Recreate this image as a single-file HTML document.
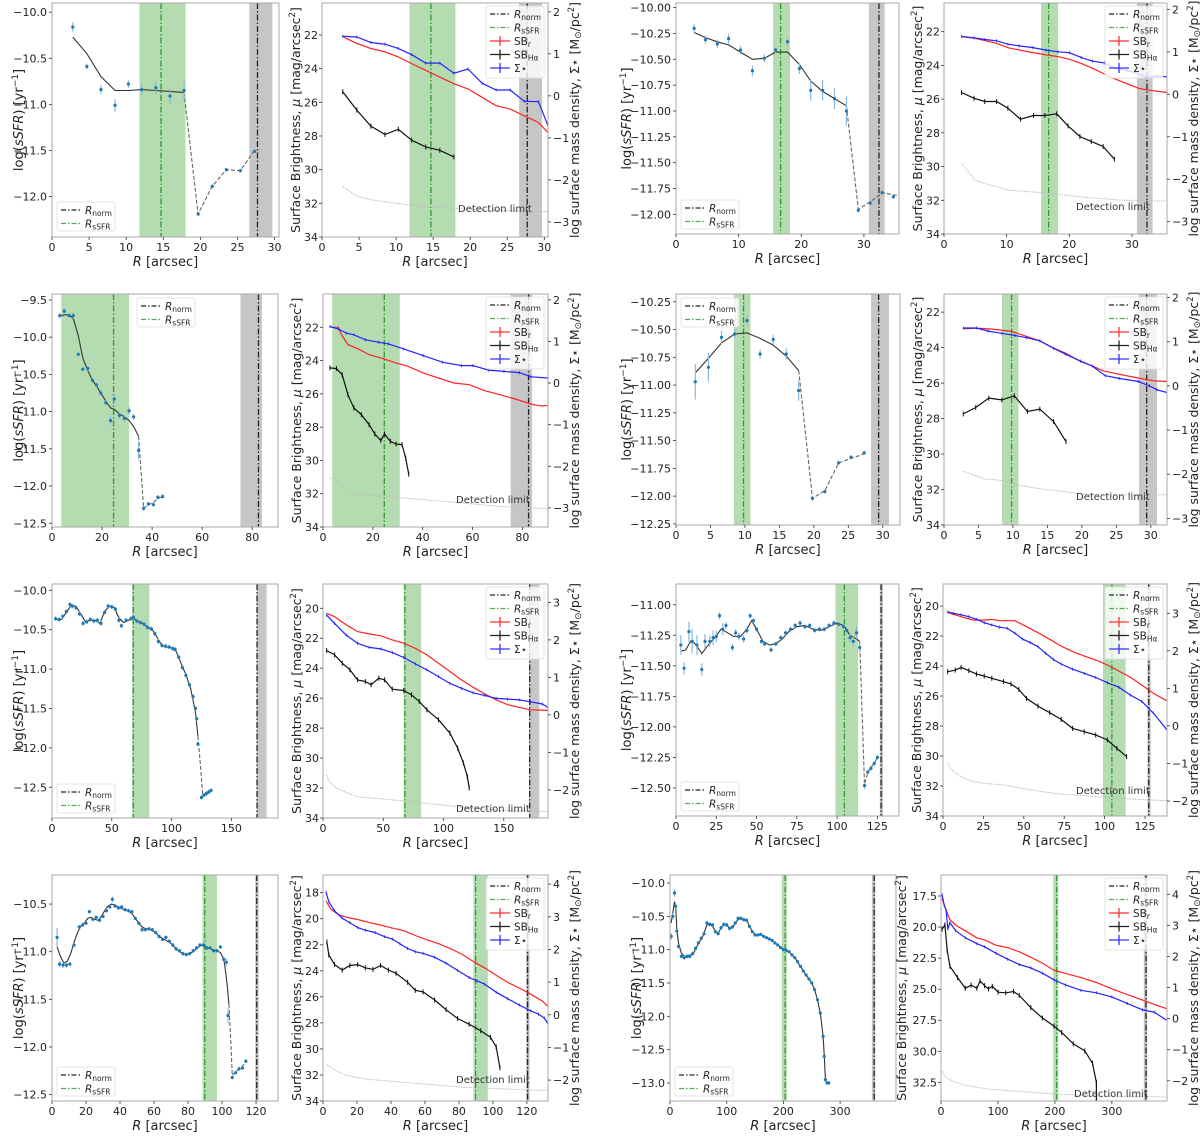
<!DOCTYPE html>
<html><head><meta charset="utf-8">
<style>
html,body{margin:0;padding:0;background:#fff;}
svg{display:block;font-family:"DejaVu Sans","Liberation Sans",sans-serif;}
</style></head>
<body>
<svg id="fig" xmlns="http://www.w3.org/2000/svg" width="1200" height="1138" viewBox="0 0 1200 1138"></svg>
<script>
// ===== Galaxy 1 (row1 left) =====
const g1_pts=[[2.8,-10.16,.05],[4.7,-10.59,.03],[6.6,-10.84,.05],[8.5,-11.01,.07],[10.3,-10.78,.04],[12.1,-10.84,.07],[14.0,-10.82,.07],[15.9,-10.91,.08],[17.8,-10.85,.1],[19.7,-12.19,.02],[21.6,-11.89,.02],[23.5,-11.71,.02],[25.4,-11.72,.02],[27.3,-11.51,.02]];
const g1_ls=[[2.8,-10.27],[4.7,-10.45],[6.6,-10.7],[8.5,-10.85],[10.3,-10.85],[12.1,-10.84],[14,-10.85],[15.9,-10.86],[17.8,-10.87]];
const g1_ld=[[17.8,-10.87],[19.7,-12.19],[21.6,-11.89],[23.5,-11.71],[25.4,-11.72],[27.3,-11.5]];
const g1_sbr=[[2.8,22.1],[4.7,22.5],[6.6,22.8],[8.5,23.0],[10.3,23.3],[12.1,23.7],[14,24.1],[15.9,24.5],[17.8,24.9],[19.7,25.2],[21.6,25.7],[23.5,26.2],[25.4,26.4],[27.3,26.8],[29.2,27.2],[30.5,27.8]];
const g1_sig=[[2.8,1.42],[4.7,1.40],[6.6,1.27],[8.5,1.23],[10.3,1.13],[12.1,0.98],[14,0.78],[15.9,0.78],[17.8,0.54],[19.7,0.64],[21.6,0.30],[23.5,0.14],[25.4,0.14],[27.3,-0.13],[29.2,-0.14],[30.5,-0.71]];
const g1_sbha=[[2.8,25.37],[4.7,26.46],[6.6,27.42],[8.5,27.91],[10.3,27.6],[12.1,28.25],[14,28.65],[15.9,28.85],[17.8,29.24]];
const g1_det=[[2.8,30.99],[4.7,31.58],[7,31.82],[10,32.0],[14,32.2],[18,32.3],[22,32.4],[30.5,32.5]];
// ===== Galaxy 2 (row1 right) =====
const g2_pts=[[2.9,-10.2,.04],[4.7,-10.31,.04],[6.6,-10.35,.04],[8.4,-10.3,.05],[10.3,-10.41,.04],[12.2,-10.61,.05],[14.1,-10.49,.04],[15.9,-10.41,.03],[17.8,-10.33,.04],[19.7,-10.59,.05],[21.5,-10.8,.1],[23.4,-10.8,.1],[25.3,-10.88,.1],[27.2,-11.0,.14],[29.1,-11.96,.02],[31,-11.89,.02],[32.9,-11.79,.02],[34.7,-11.83,.02]];
const g2_ls=[[2.9,-10.24],[4.7,-10.29],[6.6,-10.33],[8.4,-10.36],[10.3,-10.43],[12.2,-10.5],[14.1,-10.49],[15.9,-10.43],[17.8,-10.43],[19.7,-10.55],[21.5,-10.71],[23.4,-10.81],[25.3,-10.88],[27.2,-10.95]];
const g2_ld=[[27.2,-10.95],[29.1,-11.95],[31,-11.88],[32.9,-11.79],[35.6,-11.82]];
const g2_sbr=[[2.8,22.3],[4.8,22.39],[6.5,22.53],[8.4,22.69],[10.2,22.95],[12.0,23.09],[14.2,23.24],[16.3,23.38],[18.2,23.48],[20.0,23.64],[21.9,23.88],[23.7,24.17],[25.6,24.51],[27.4,24.82],[29.3,25.1],[31.1,25.36],[32.3,25.45],[35.6,25.61]];
const g2_sig=[[2.8,1.36],[4.8,1.33],[6.5,1.29],[8.4,1.26],[10.2,1.18],[12.0,1.14],[14.2,1.1],[16.3,1.04],[18.2,1.0],[20.0,0.98],[21.9,0.87],[23.7,0.78],[25.6,0.74],[27.4,0.61],[29.3,0.56],[31.1,0.48],[32.3,0.4],[34.1,0.43],[35.6,0.41]];
const g2_sbha=[[2.8,25.61],[4.8,25.95],[6.5,26.14],[8.4,26.14],[10.2,26.54],[12.2,27.19],[14.3,26.97],[16.1,26.97],[18.0,26.87],[19.8,27.59],[21.7,28.22],[23.5,28.51],[25.4,28.81],[27.2,29.56]];
const g2_det=[[2.8,29.8],[4.9,30.8],[6.5,31.0],[10.2,31.4],[15.7,31.55],[21.9,31.8],[28.0,31.99],[35.6,32.05]];
// ===== Galaxy 3 (row2 left) =====
const g3_pts=[[3.1,-9.71,.04],[4.9,-9.65,.04],[6.9,-9.71,.03],[8.5,-9.71,.04],[10.5,-10.23,.03],[12.3,-10.43,.03],[14.3,-10.42,.03],[16.2,-10.58,.03],[17.7,-10.64,.03],[19.5,-10.75,.04],[21.5,-10.88,.04],[23.4,-11.12,.06],[24.9,-10.83,.05],[26.9,-11.05,.05],[28.9,-11.09,.05],[30.8,-10.99,.05],[32.6,-11.07,.04],[34.6,-11.52,.12],[36.6,-12.3,.03],[38.5,-12.24,.03],[40.5,-12.25,.03],[42.3,-12.15,.03],[44.2,-12.14,.03]];
const g3_ls=[[3.1,-9.72],[4.9,-9.7],[6.9,-9.7],[8.5,-9.75],[10.5,-9.98],[12.3,-10.28],[14.3,-10.45],[16.2,-10.58],[17.7,-10.65],[19.5,-10.75],[21.5,-10.86],[23.4,-10.95],[24.9,-10.97],[26.9,-11.03],[28.9,-11.07],[30.8,-11.12],[32.6,-11.2],[34.6,-11.33]];
const g3_ld=[[34.6,-11.33],[36.6,-12.3],[38.5,-12.25],[40.5,-12.22],[42.3,-12.17],[44.2,-12.14]];
const g3_sbr=[[3.4,22],[6.2,22],[7.4,22.44],[10.0,23.04],[13.9,23.28],[18.5,23.64],[23.2,23.84],[29.3,24.14],[34.0,24.34],[40.2,24.74],[46.3,25.05],[52.5,25.35],[58.7,25.45],[64.9,25.81],[71.0,26.05],[77.2,26.31],[83.4,26.61],[86.5,26.71],[90.3,26.71]];
const g3_sig=[[2.8,1.36],[6.2,1.30],[9.3,1.2],[12.4,1.16],[17,1.04],[22.4,0.98],[26.3,0.94],[32.4,0.82],[40.2,0.66],[47.9,0.5],[55.6,0.42],[60.2,0.42],[66.4,0.31],[72.6,0.28],[78.8,0.25],[83.4,0.15],[90.3,0.12]];
const g3_sbha=[[2.8,24.44],[5.4,24.48],[7.7,24.85],[10,26.05],[12.4,26.85],[15.4,27.25],[18.5,27.85],[20.8,28.41],[23.2,28.81],[24.7,28.41],[27,28.85],[29.3,29.01],[31.7,29.05],[33.2,29.86],[34.4,30.82]];
const g3_det=[[2.8,31.06],[5.9,31.16],[9.3,31.86],[12.4,32.02],[24.7,32.16],[40.2,32.36],[55.6,32.56],[71,32.76],[90.3,32.9]];
// ===== Galaxy 4 (row2 right) =====
const g4_pts=[[2.8,-10.97,.16],[4.7,-10.84,.13],[6.6,-10.57,.06],[8.5,-10.54,.04],[10.3,-10.42,.04],[12.2,-10.72,.04],[14.1,-10.59,.04],[16,-10.72,.05],[17.8,-11.05,.09],[19.8,-12.02,.02],[21.6,-11.96,.02],[23.6,-11.7,.02],[25.4,-11.65,.02],[27.3,-11.61,.02]];
const g4_ls=[[2.8,-10.89],[4.7,-10.76],[6.6,-10.62],[8.5,-10.54],[10.3,-10.53],[12.2,-10.58],[14.1,-10.64],[16,-10.74],[17.8,-10.87]];
const g4_ld=[[17.8,-10.87],[19.8,-12.02],[21.6,-11.95],[23.6,-11.7],[25.4,-11.66],[27.3,-11.62]];
const g4_sbr=[[2.8,22.94],[4.7,22.9],[7,22.96],[9.8,23.09],[12,23.37],[13.9,23.62],[15.9,24.03],[17.6,24.31],[19.8,24.78],[21.5,25.03],[23.1,25.31],[25.4,25.5],[28.2,25.72],[30.4,25.87],[32.35,25.91]];
const g4_sig=[[2.8,1.31],[4.7,1.31],[6.4,1.24],[8.4,1.19],[10.3,1.14],[12,1.09],[13.9,1.02],[15.9,0.85],[17.6,0.72],[19.8,0.56],[21.5,0.45],[23.4,0.23],[25.4,0.17],[28.2,0.1],[29.8,0.0],[30.9,-0.09],[32.35,-0.15]];
const g4_sbha=[[2.8,27.74],[4.6,27.38],[6.5,26.85],[8.4,26.95],[10.2,26.72],[12.1,27.6],[13.9,27.47],[15.9,28.17],[17.7,29.3]];
const g4_det=[[2.8,30.96],[5.9,31.4],[8.6,31.5],[11.4,31.8],[14.2,31.97],[17,32.1],[20.4,32.26],[25.4,32.3],[32.35,32.3]];
// ===== Galaxy 5 (row3 left) =====
const g5_ls=[[3,-10.37],[8,-10.37],[12,-10.28],[16,-10.19],[20,-10.2],[24,-10.3],[28,-10.4],[32,-10.38],[36,-10.38],[40,-10.42],[44,-10.27],[48,-10.2],[52,-10.22],[56,-10.35],[60,-10.41],[64,-10.38],[68,-10.35],[72,-10.4],[76,-10.42],[80,-10.47],[84,-10.5],[88,-10.6],[92,-10.7],[96,-10.72],[100,-10.73],[104,-10.78],[108,-10.93],[112,-11.07],[116,-11.25],[120,-11.55],[122,-11.85]];
const g5_ld=[[122,-11.85],[124,-12.2],[126,-12.6],[128,-12.6],[130,-12.57],[133,-12.54]];
const g5_pts=[[3,-10.36,.03],[6,-10.37,.03],[9,-10.33,.03],[12,-10.27,.03],[15,-10.18,.03],[17,-10.2,.03],[20,-10.22,.03],[23,-10.3,.03],[26,-10.42,.03],[29,-10.4,.03],[32,-10.37,.03],[35,-10.39,.03],[38,-10.38,.03],[41,-10.42,.03],[44,-10.28,.03],[47,-10.2,.03],[50,-10.21,.03],[53,-10.24,.03],[56,-10.38,.03],[58,-10.45,.03],[62,-10.38,.03],[66,-10.36,.03],[68,-10.34,.03],[71,-10.39,.03],[74,-10.41,.03],[77,-10.43,.03],[80,-10.47,.03],[83,-10.49,.03],[86,-10.55,.03],[89,-10.65,.03],[92,-10.7,.03],[95,-10.71,.03],[98,-10.72,.03],[101,-10.74,.03],[103,-10.75,.03],[106,-10.85,.03],[109,-10.98,.03],[112,-11.08,.03],[115,-11.2,.03],[118,-11.35,.03],[120,-11.5,.03],[121,-11.63,.03],[122,-11.95,.03],[125,-12.63,.03],[127,-12.6,.03],[129,-12.58,.03],[131,-12.56,.03],[133,-12.54,.03]];
const g5_sbr=[[3,20.33],[9.6,20.56],[19.2,21.1],[28.7,21.56],[38.3,21.71],[47.9,21.84],[57.5,22.11],[67,22.33],[76.6,22.67],[86.2,23.11],[95.8,23.67],[105.3,24.22],[114.9,24.78],[124.5,25.27],[134,25.71],[143.6,26.11],[153.2,26.44],[162.8,26.62],[172.3,26.78],[186.7,26.82]];
const g5_sig=[[3,2.66],[9.6,2.44],[19.2,2.13],[28.7,1.91],[38.3,1.8],[47.9,1.76],[57.5,1.66],[67,1.53],[76.6,1.36],[86.2,1.2],[95.8,1.02],[105.3,0.84],[114.9,0.71],[124.5,0.59],[134,0.52],[143.6,0.44],[153.2,0.42],[162.8,0.4],[172.3,0.35],[181.9,0.29],[186.7,0.2]];
const g5_sbha=[[3,22.82],[9.6,23.11],[16,23.67],[22.3,24.11],[28.7,24.78],[35.1,24.89],[39.9,25.11],[46.3,24.67],[51.1,24.78],[57.5,25.4],[67,25.49],[73.4,25.78],[79.8,26.22],[86.2,26.78],[95.8,27.44],[105.3,28.33],[111.7,29.33],[116.5,30.33],[119.7,31.22],[121.3,32.0]];
const g5_det=[[2.6,31.11],[6.4,31.67],[11.2,32.0],[19.2,32.29],[28.7,32.6],[51,32.73],[83,33.0],[114.9,33.27],[146.8,33.49],[186.7,33.56]];
// ===== Galaxy 6 (row3 right) =====
const g6_ls=[[3,-11.38],[6,-11.37],[9,-11.3],[12,-11.32],[16,-11.4],[20,-11.33],[24,-11.27],[28,-11.2],[32,-11.23],[36,-11.26],[40,-11.26],[44,-11.2],[47,-11.13],[50,-11.2],[54,-11.3],[58,-11.33],[62,-11.32],[66,-11.28],[70,-11.22],[75,-11.18],[80,-11.17],[85,-11.2],[90,-11.21],[95,-11.18],[100,-11.15],[104,-11.17],[108,-11.25],[112,-11.28],[114,-11.3]];
const g6_ld=[[114,-11.3],[117,-12.47],[119,-12.38],[121,-12.33],[123,-12.3],[125,-12.25]];
const g6_pts=[[3,-11.33,.08],[5,-11.52,.05],[8,-11.22,.08],[10,-11.3,.1],[13,-11.33,.08],[16,-11.53,.05],[18,-11.3,.06],[21,-11.3,.05],[23,-11.27,.06],[25,-11.26,.05],[27,-11.09,.03],[29,-11.2,.05],[31,-11.17,.03],[35,-11.35,.03],[37,-11.23,.03],[39,-11.26,.03],[42,-11.28,.03],[44,-11.21,.03],[46,-11.09,.02],[48,-11.13,.02],[50,-11.2,.02],[53,-11.3,.02],[55,-11.32,.02],[59,-11.37,.02],[62,-11.32,.02],[65,-11.27,.02],[68,-11.23,.02],[71,-11.2,.02],[74,-11.17,.02],[77,-11.15,.02],[80,-11.18,.02],[83,-11.17,.02],[86,-11.21,.02],[89,-11.2,.02],[92,-11.2,.02],[95,-11.17,.02],[98,-11.15,.02],[101,-11.16,.02],[104,-11.18,.02],[106,-11.21,.03],[108,-11.27,.04],[110,-11.3,.04],[112,-11.23,.05],[114,-11.35,.04],[117,-12.48,.03],[119,-12.37,.02],[121,-12.34,.02],[123,-12.3,.02],[125,-12.25,.02]];
const g6_sbr=[[2.9,20.44],[11.2,20.71],[18.3,20.93],[25.5,20.93],[30.2,20.89],[35,20.98],[39.8,20.98],[44.5,20.98],[51.7,21.38],[58.8,21.78],[66,22.22],[73.1,22.67],[80.2,23.04],[87.4,23.33],[94.5,23.6],[101.7,23.93],[108.8,24.33],[116,24.76],[123.1,25.27],[130.2,25.82],[138.6,26.33]];
const g6_sig=[[2.9,3.04],[6.4,3.0],[11.2,2.96],[16,2.91],[20.7,2.84],[25.5,2.75],[30.2,2.69],[35,2.63],[39.8,2.6],[44.5,2.47],[49.3,2.31],[54,2.22],[58.8,2.11],[63.6,1.93],[68.3,1.77],[73.1,1.65],[80.2,1.51],[87.4,1.4],[94.5,1.29],[101.7,1.15],[108.8,1.03],[116,0.82],[123.1,0.65],[130.2,0.34],[138.6,-0.11]];
const g6_sbha=[[2.9,24.38],[7.6,24.27],[11.2,24.09],[16,24.31],[20.7,24.53],[25.5,24.67],[30.2,24.82],[37.4,25.04],[42.1,25.2],[46.9,25.56],[51.7,26.16],[58.8,26.67],[66,27.11],[73.1,27.56],[80.2,28.16],[87.4,28.38],[94.5,28.6],[101.7,28.93],[107.6,29.49],[113.6,30.04]];
const g6_det=[[2.9,30.49],[6.4,31.04],[11.2,31.38],[18.3,31.71],[25.5,31.82],[37.4,31.93],[49.3,32.16],[61.2,32.38],[73.1,32.53],[96.9,32.71],[120.7,32.89],[138.6,32.98]];
// ===== Galaxy 7 (row4 left) =====
const g7_ls=[[3,-10.95],[5,-11.05],[7,-11.12],[9,-11.1],[11,-11.02],[13,-10.9],[15,-10.8],[17,-10.73],[19,-10.7],[21,-10.65],[23,-10.64],[25,-10.66],[27,-10.67],[29,-10.63],[31,-10.57],[33,-10.52],[35,-10.5],[37,-10.51],[39,-10.53],[41,-10.55],[43,-10.56],[45,-10.57],[47,-10.6],[49,-10.65],[51,-10.7],[53,-10.74],[55,-10.76],[57,-10.76],[59,-10.78],[61,-10.8],[63,-10.84],[65,-10.86],[67,-10.88],[69,-10.9],[71,-10.93],[73,-10.97],[75,-11.0],[77,-11.02],[79,-11.03],[81,-11.02],[83,-11.0],[85,-10.97],[87,-10.94],[89,-10.93],[91,-10.95],[93,-10.97],[95,-10.98],[97,-10.99],[99,-11.01],[101,-11.08],[102,-11.2],[103,-11.35],[104,-11.55]];
const g7_ld=[[104,-11.55],[105,-11.9],[106,-12.3],[108,-12.26],[110,-12.23],[112,-12.2],[114,-12.15]];
const g7_pts=[[3,-10.85,.1],[4.5,-11.13,.03],[6.5,-11.14,.03],[8.5,-11.14,.03],[10.5,-11.13,.02],[13,-10.93,.02],[16,-10.74,.02],[18,-10.72,.02],[20,-10.7,.02],[22,-10.58,.02],[24,-10.66,.02],[26,-10.64,.02],[28,-10.67,.02],[30,-10.63,.02],[32,-10.57,.02],[34,-10.53,.02],[35.5,-10.45,.03],[37,-10.52,.02],[39,-10.54,.02],[41,-10.53,.02],[43,-10.56,.02],[45,-10.57,.02],[47,-10.58,.02],[49,-10.65,.02],[51,-10.7,.02],[53,-10.77,.02],[55,-10.77,.02],[57,-10.76,.02],[59,-10.77,.02],[61,-10.8,.02],[63,-10.84,.02],[65,-10.87,.02],[67,-10.85,.02],[69,-10.89,.02],[71,-10.93,.02],[73,-10.97,.02],[75,-10.99,.02],[77,-11.02,.02],[79,-11.03,.02],[81,-11.02,.02],[83,-10.99,.02],[85,-10.96,.02],[87,-10.93,.02],[89,-10.93,.03],[91,-10.96,.02],[93,-10.96,.02],[95,-10.99,.02],[97,-10.99,.02],[99,-10.95,.02],[101,-11.08,.03],[102.5,-11.11,.04],[103.5,-11.67,.08],[106,-12.32,.02],[108,-12.27,.02],[110,-12.23,.02],[112,-12.22,.02],[114,-12.15,.02]];
const g7_sbr=[[1.8,18.64],[4.5,19.24],[9,19.68],[13.6,19.88],[20.4,20.06],[27.2,20.3],[33.9,20.48],[40.8,20.72],[47.5,20.92],[54.3,21.29],[61.1,21.62],[67.9,21.91],[74.7,22.28],[81.5,22.71],[88.3,23.28],[95.1,23.77],[101.9,24.34],[108.7,24.89],[115.5,25.33],[122.3,25.8],[129,26.32],[132.4,26.74]];
const g7_sig=[[1.8,3.75],[3.4,3.46],[6.8,3.18],[11.3,2.96],[15.8,2.82],[20.4,2.67],[24.9,2.59],[30.6,2.52],[36.2,2.39],[40.8,2.32],[45.3,2.17],[49.8,2.03],[54.3,1.93],[58.9,1.88],[65.7,1.76],[72.4,1.58],[79.2,1.36],[86,1.14],[90.6,1.04],[95.1,0.94],[101.9,0.69],[108.7,0.49],[115.5,0.3],[122.3,0.12],[126.8,0.02],[130.2,-0.1],[132.4,-0.28]];
const g7_sbha=[[2.3,21.79],[3.4,22.78],[6.8,23.52],[11.3,23.94],[15.8,23.59],[20.4,23.52],[24.9,23.77],[29.4,23.89],[33.9,23.59],[38.5,23.94],[43,24.19],[49.8,24.88],[54.3,25.5],[58.9,25.62],[65.7,26.24],[72.4,26.99],[79.2,27.66],[86,28.1],[92.8,28.6],[98.5,29.1],[101.9,29.84],[104.1,31.45]];
const g7_det=[[2.3,31.2],[6.8,31.62],[13.6,32.02],[24.9,32.32],[36.2,32.44],[58.9,32.69],[81.5,32.94],[104.1,33.06],[132.4,33.19]];
// ===== Galaxy 8 (row4 right) =====
const g8_ls=[[2,-10.6],[5,-10.45],[8,-10.28],[10,-10.35],[12,-10.7],[15,-10.9],[20,-11.05],[25,-11.1],[30,-11.1],[35,-11.08],[40,-11.07],[45,-11.0],[50,-10.9],[55,-10.85],[60,-10.75],[65,-10.63],[70,-10.62],[75,-10.65],[80,-10.72],[85,-10.75],[90,-10.68],[95,-10.62],[100,-10.63],[105,-10.68],[110,-10.67],[115,-10.6],[120,-10.55],[125,-10.53],[130,-10.55],[135,-10.55],[140,-10.65],[145,-10.72],[150,-10.78],[155,-10.78],[160,-10.77],[165,-10.8],[170,-10.82],[180,-10.86],[190,-10.93],[200,-11.0],[210,-11.03],[220,-11.12],[230,-11.25],[240,-11.38],[250,-11.5],[255,-11.6],[260,-11.75],[265,-11.95],[270,-12.3],[272,-12.6],[274,-12.95],[277,-13.0],[280,-13.0]];
const g8_ld=[];
const g8_pts=[[2,-10.8,.05],[5,-10.5,.05],[8,-10.15,.06],[10,-10.35,.04],[12,-10.72,.03],[15,-10.95,.03],[20,-11.1,.03],[25,-11.12,.03],[30,-11.1,.03],[35,-11.1,.03],[40,-11.06,.03],[45,-10.98,.03],[50,-10.9,.03],[55,-10.83,.03],[60,-10.76,.03],[65,-10.6,.03],[70,-10.62,.03],[75,-10.63,.03],[80,-10.73,.03],[85,-10.76,.03],[90,-10.67,.03],[95,-10.62,.03],[100,-10.63,.03],[105,-10.68,.03],[110,-10.66,.03],[115,-10.6,.03],[120,-10.53,.03],[125,-10.53,.03],[130,-10.55,.03],[135,-10.56,.03],[140,-10.65,.02],[145,-10.73,.02],[150,-10.78,.02],[155,-10.78,.02],[160,-10.77,.02],[165,-10.8,.02],[170,-10.82,.02],[175,-10.84,.02],[180,-10.86,.02],[185,-10.9,.02],[190,-10.93,.02],[195,-10.97,.02],[200,-11.0,.02],[205,-11.01,.02],[210,-11.03,.02],[215,-11.08,.02],[220,-11.12,.02],[225,-11.18,.02],[230,-11.25,.02],[235,-11.32,.02],[240,-11.38,.02],[245,-11.44,.02],[250,-11.5,.02],[255,-11.6,.02],[260,-11.75,.02],[265,-11.95,.02],[270,-12.3,.02],[272,-12.6,.02],[274,-12.95,.02],[277,-13.0,.02],[280,-13.0,.02]];
const g8_sbr=[[2,17.71],[8.8,18.62],[15.6,19.4],[25.7,19.84],[42.7,20.3],[63,20.87],[76.5,21.03],[96.8,21.47],[117.1,21.65],[137.4,21.99],[157.7,22.43],[178,22.9],[198.4,23.47],[218.7,23.73],[245.8,24.07],[272.8,24.46],[300,24.97],[327,25.44],[354.1,25.88],[374.4,26.22],[396.8,26.58]];
const g8_sig=[[2,3.99],[5.4,3.66],[8.8,3.5],[12.2,2.88],[15.6,3.09],[25.7,2.83],[42.7,2.6],[63,2.41],[76.5,2.31],[96.8,2.1],[117.1,1.91],[137.4,1.74],[157.7,1.63],[178,1.46],[198.4,1.25],[218.7,1.08],[245.8,0.91],[272.8,0.83],[300,0.7],[327,0.49],[354.1,0.28],[374.4,0.21],[396.8,-0.06]];
const g8_sbha=[[2,20.17],[6.8,19.83],[10.8,21.86],[15.6,23.16],[29.1,24.07],[42.7,24.93],[52.8,24.67],[63,24.93],[68.4,24.33],[76.5,24.72],[83.3,24.98],[90.1,24.77],[100.2,25.24],[113.7,25.29],[127.3,25.19],[137.4,25.5],[157.7,26.49],[178,27.32],[198.4,27.97],[211.9,28.49],[232.2,29.4],[252.5,29.97],[266,30.96],[272.8,32.5],[272.8,34]];
const g8_det=[[2,31.6],[8.8,32.12],[22.3,32.43],[42.7,32.74],[76.5,33.0],[144.2,33.26],[211.9,33.47],[279.6,33.6],[396.8,33.68]];

// Markers (green band lo, hi, R_sSFR, gray band lo, hi, R_norm) per galaxy
const g1_marks=[11.8,18,14.7,26.6,29.7,27.7];
const g2_marks=[15.5,18.2,16.7,30.8,33.3,32.4];
const g3_marks=[3.7,30.8,24.6,75.3,83.9,82.5];
const g4_marks=[8.4,10.8,9.8,28.3,30.9,29.4];
const g5_marks=[67,81.5,68,171,179.5,171.5];
const g6_marks=[99,113,104.5,126.5,128.5,127.3];
const g7_marks=[88.5,97,89.8,119.5,121.5,120.4];
const g8_marks=[197,206,203,356,362,360];

// Tick arrays
const ssfrTicks=[[-10,-10.5,-11,-11.5,-12],[-10,-10.25,-10.5,-10.75,-11,-11.25,-11.5,-11.75,-12],[-9.5,-10,-10.5,-11,-11.5,-12,-12.5],[-10.25,-10.5,-10.75,-11,-11.25,-11.5,-11.75,-12,-12.25],[-10,-10.5,-11,-11.5,-12,-12.5],[-11,-11.25,-11.5,-11.75,-12,-12.25,-12.5],[-10.5,-11,-11.5,-12,-12.5],[-10,-10.5,-11,-11.5,-12,-12.5,-13]];
const xTicks=[[0,5,10,15,20,25,30],[0,10,20,30],[0,20,40,60,80],[0,5,10,15,20,25,30],[0,50,100,150],[0,25,50,75,100,125],[0,20,40,60,80,100,120],[0,100,200,300]];
const sbTicks=[[22,24,26,28,30,32,34],[22,24,26,28,30,32,34],[22,24,26,28,30,32,34],[22,24,26,28,30,32,34],[20,22,24,26,28,30,32,34],[20,22,24,26,28,30,32,34],[18,20,22,24,26,28,30,32,34],[17.5,20,22.5,25,27.5,30,32.5]];
const sigTicks=[[-3,-2,-1,0,1,2],[-3,-2,-1,0,1,2],[-3,-2,-1,0,1,2],[-3,-2,-1,0,1,2],[-2,-1,0,1,2,3],[-2,-1,0,1,2,3],[-2,-1,0,1,2,3,4],[-2,-1,0,1,2,3,4]];

const G=[
 {pts:g1_pts,ls:g1_ls,ld:g1_ld,sbr:g1_sbr,sig:g1_sig,sbha:g1_sbha,det:g1_det,m:g1_marks},
 {pts:g2_pts,ls:g2_ls,ld:g2_ld,sbr:g2_sbr,sig:g2_sig,sbha:g2_sbha,det:g2_det,m:g2_marks},
 {pts:g3_pts,ls:g3_ls,ld:g3_ld,sbr:g3_sbr,sig:g3_sig,sbha:g3_sbha,det:g3_det,m:g3_marks},
 {pts:g4_pts,ls:g4_ls,ld:g4_ld,sbr:g4_sbr,sig:g4_sig,sbha:g4_sbha,det:g4_det,m:g4_marks},
 {pts:g5_pts,ls:g5_ls,ld:g5_ld,sbr:g5_sbr,sig:g5_sig,sbha:g5_sbha,det:g5_det,m:g5_marks},
 {pts:g6_pts,ls:g6_ls,ld:g6_ld,sbr:g6_sbr,sig:g6_sig,sbha:g6_sbha,det:g6_det,m:g6_marks},
 {pts:g7_pts,ls:g7_ls,ld:g7_ld,sbr:g7_sbr,sig:g7_sig,sbha:g7_sbha,det:g7_det,m:g7_marks},
 {pts:g8_pts,ls:g8_ls,ld:g8_ld,sbr:g8_sbr,sig:g8_sig,sbha:g8_sbha,det:g8_det,m:g8_marks}
];
// Layout (pixels) and axis ranges
const L=[
 {sf:[52,3,279,237],sx:30.6,sy:[-12.44,-9.9],sd:1,leg:[57,202],bf:[322,3,548,237],bx:30.5,bt:20.1,br:[-3.36,2.21],dt:[458,212]},
 {sf:[676,3,899,234],sx:35.6,sy:[-12.19,-9.955],sd:2,leg:[681,200],bf:[944,3,1167,234],bx:35.6,bt:20.3,br:[-3.29,2.15],dt:[1076,210]},
 {sf:[52,294,278,527],sx:90.3,sy:[-12.55,-9.42],sd:1,leg:[137,298],bf:[323,294,548,527],bx:90.3,bt:20.0,br:[-3.46,2.14],dt:[456,503]},
 {sf:[676,294,900,525],sx:32.5,sy:[-12.26,-10.18],sd:2,leg:[681,298],bf:[944,294,1167,525],bx:32.35,bt:20.98,br:[-3.15,2.08],dt:[1076,500]},
 {sf:[52,584,278,818],sx:189,sy:[-12.89,-9.92],sd:1,leg:[57,784],bf:[323,584,548,818],bx:186.7,bt:18.38,br:[-2.75,3.49],dt:[456,812]},
 {sf:[676,584,899,816],sx:138.4,sy:[-12.73,-10.83],sd:2,leg:[681,782],bf:[943,584,1167,816],bx:138.6,bt:18.53,br:[-2.4,3.78],dt:[1076,794]},
 {sf:[52,875,278,1101],sx:132.9,sy:[-12.567,-10.195],sd:1,leg:[57,1067],bf:[323,875,548,1101],bx:132.4,bt:16.64,br:[-2.64,4.28],dt:[456,1083]},
 {sf:[670,875,896,1101],sx:398.5,sy:[-13.27,-9.88],sd:1,leg:[675,1067],bf:[941,875,1167,1101],bx:396.8,bt:15.81,br:[-2.65,4.62],dt:[1074,1097]}
];

const NS='http://www.w3.org/2000/svg';
const svg=document.getElementById('fig');
function el(tag,attrs,parent){const e=document.createElementNS(NS,tag);for(const k in attrs)e.setAttribute(k,attrs[k]);(parent||svg).appendChild(e);return e;}
function fmt(v,d){return (v<0?'\u2212':'')+Math.abs(v).toFixed(d);}
function poly(pts,fx,fy,attrs,parent,name){
  if(!pts.length)return;
  const p=el('polyline',Object.assign({points:pts.map(q=>fx(q[0]).toFixed(1)+','+fy(q[1]).toFixed(1)).join(' '),fill:'none'},attrs),parent);
  
  
  return p;
}
function bands(g,f,fx,m){
  const y0=f[1],h=f[3]-f[1];
  const gb=el('rect',{x:fx(m[0]),y:y0,width:fx(m[1])-fx(m[0]),height:h,fill:'#b4dcb0'},g);
  
  
  const kb=el('rect',{x:fx(m[3]),y:y0,width:fx(m[4])-fx(m[3]),height:h,fill:'#c6c6c6'},g);
  
  
  const gl=el('line',{x1:fx(m[2]),x2:fx(m[2]),y1:y0,y2:f[3],stroke:'#2e9a2e','stroke-width':1.3,'stroke-dasharray':'6,2,1.5,2'},g);
  
  
  const kl=el('line',{x1:fx(m[5]),x2:fx(m[5]),y1:y0,y2:f[3],stroke:'#222','stroke-width':1.3,'stroke-dasharray':'6,2,1.5,2'},g);
  
  
}
function frame(g,f){
  const r=el('rect',{x:f[0],y:f[1],width:f[2]-f[0],height:f[3]-f[1],fill:'none',stroke:'#a8a8a8','stroke-width':1},g);
  
  
}
function xaxis(g,f,fx,ticks){
  ticks.forEach(t=>{
    const x=fx(t);
    el('line',{x1:x,x2:x,y1:f[3],y2:f[3]+3,stroke:'#333','stroke-width':0.8},g);
    const tx=el('text',{x:x,y:f[3]+14,'font-size':11,'text-anchor':'middle',fill:'#222'},g);
    tx.textContent=String(t);
    
    
  });
  const t=el('text',{x:(f[0]+f[2])/2,y:f[3]+29,'font-size':13,'text-anchor':'middle',fill:'#222'},g);
  t.innerHTML='<tspan font-style="italic">R</tspan> [arcsec]';
  
  
}
function legend(g,x,y,full){
  const w=58,h=full?72:29;
  const lg=el('g',{},g);
  
  
  el('rect',{x:x,y:y,width:w,height:h,rx:2,fill:'#fff','fill-opacity':0.8,stroke:'#ddd','stroke-width':0.8},lg);
  const rows=[['#222','dd','R','norm'],['#4caf50','dd','R','sSFR']];
  if(full){rows.push(['#f33','err','SB','r'],['#222','err','SB','H\u03b1'],['#33f','err','\u03a3\u22c6','']);}
  rows.forEach((r,i)=>{
    const cy=y+8+i*13.5;
    if(r[1]==='dd') el('line',{x1:x+4,x2:x+24,y1:cy,y2:cy,stroke:r[0],'stroke-width':1.2,'stroke-dasharray':'5,2,1.5,2'},lg);
    else{el('line',{x1:x+4,x2:x+24,y1:cy,y2:cy,stroke:r[0],'stroke-width':1.3},lg);el('line',{x1:x+14,x2:x+14,y1:cy-5,y2:cy+5,stroke:r[0],'stroke-width':1.3},lg);}
    const t=el('text',{x:x+28,y:cy+4,'font-size':10.5,fill:'#222'},lg);
    if(r[2]==='R') t.innerHTML='<tspan font-style="italic">R</tspan><tspan font-size="7.5" dy="2">'+r[3]+'</tspan>';
    else if(r[3]) t.innerHTML=r[2]+'<tspan font-size="7.5" dy="2">'+r[3]+'</tspan>';
    else t.textContent=r[2];
    
    
  });
}

G.forEach((d,i)=>{
  const l=L[i];
  // ---- sSFR panel ----
  const f=l.sf;
  const gs=el('g',{});
  
  
  const fx=v=>f[0]+v/l.sx*(f[2]-f[0]);
  const fy=v=>f[3]-(v-l.sy[0])/(l.sy[1]-l.sy[0])*(f[3]-f[1]);
  bands(gs,f,fx,d.m);
  poly(d.ls,fx,fy,{stroke:'#333','stroke-width':1.1},gs,'ssfr-fit-line');
  poly(d.ld,fx,fy,{stroke:'#666','stroke-width':1.1,'stroke-dasharray':'4,2'},gs,'ssfr-fit-dashed');
  d.pts.forEach(p=>{
    const eb=el('line',{x1:fx(p[0]),x2:fx(p[0]),y1:fy(p[1]-p[2]),y2:fy(p[1]+p[2]),stroke:'#8ab9de','stroke-width':1.2},gs);
    
    
    const c=el('circle',{cx:fx(p[0]),cy:fy(p[1]),r:1.6,fill:'#1f77b4'},gs);
    
    
  });
  frame(gs,f);
  ssfrTicks[i].forEach(t=>{
    const y=fy(t);
    el('line',{x1:f[0]-3,x2:f[0],y1:y,y2:y,stroke:'#333','stroke-width':0.8},gs);
    const tx=el('text',{x:f[0]-5,y:y+4,'font-size':11,'text-anchor':'end',fill:'#222'},gs);
    tx.textContent=fmt(t,l.sd);
    
    
  });
  xaxis(gs,f,fx,xTicks[i]);
  const yt=el('text',{x:0,y:0,'font-size':13,'text-anchor':'middle',fill:'#222',transform:'translate('+(f[0]-(l.sd===2?45:29))+','+((f[1]+f[3])/2)+') rotate(-90)'},gs);
  yt.innerHTML='log(<tspan font-style="italic">sSFR</tspan>) [yr<tspan font-size="9" dy="-5">\u22121</tspan><tspan dy="5">]</tspan>';
  
  
  legend(gs,l.leg[0],l.leg[1],false);

  // ---- SB panel ----
  const b=l.bf;
  const gb=el('g',{});
  
  
  const bx=v=>b[0]+v/l.bx*(b[2]-b[0]);
  const by=v=>b[1]+(v-l.bt)/(34-l.bt)*(b[3]-b[1]);
  const by2=v=>b[3]-(v-l.br[0])/(l.br[1]-l.br[0])*(b[3]-b[1]);
  const cp=el('clipPath',{id:'cp'+i},gb);
  el('rect',{x:b[0],y:b[1],width:b[2]-b[0],height:b[3]-b[1]},cp);
  bands(gb,b,bx,d.m);
  const inner=el('g',{'clip-path':'url(#cp'+i+')'},gb);
  poly(d.det,bx,by,{stroke:'#bdbdbd','stroke-width':1,'stroke-dasharray':'1.5,1'},inner,'detection-limit');
  poly(d.sbr,bx,by,{stroke:'#f22','stroke-width':1.2},inner,'sb-r-line');
  poly(d.sig,bx,by2,{stroke:'#22f','stroke-width':1.2},inner,'sigma-star-line');
  poly(d.sbha,bx,by,{stroke:'#111','stroke-width':1.2},inner,'sb-halpha-line');
  d.sbha.forEach(p=>{
    const e=el('line',{x1:bx(p[0]),x2:bx(p[0]),y1:by(p[1])-2.5,y2:by(p[1])+2.5,stroke:'#111','stroke-width':1},inner);
    
    
  });
  d.sig.forEach(p=>{
    el('line',{x1:bx(p[0]),x2:bx(p[0]),y1:by2(p[1])-1.5,y2:by2(p[1])+1.5,stroke:'#22f','stroke-width':0.8},inner);
  });
  const dt=el('text',{x:l.dt[0],y:l.dt[1],'font-size':10,fill:'#333'},gb);
  dt.textContent='Detection limit';
  
  
  frame(gb,b);
  sbTicks[i].forEach(t=>{
    const y=by(t);
    el('line',{x1:b[0]-3,x2:b[0],y1:y,y2:y,stroke:'#333','stroke-width':0.8},gb);
    const tx=el('text',{x:b[0]-4,y:y+4,'font-size':11,'text-anchor':'end',fill:'#222'},gb);
    tx.textContent=(i===7?t.toFixed(1):String(t));
    
    
  });
  sigTicks[i].forEach(t=>{
    const y=by2(t);
    el('line',{x1:b[2],x2:b[2]+3,y1:y,y2:y,stroke:'#333','stroke-width':0.8},gb);
    const tx=el('text',{x:b[2]+5,y:y+4,'font-size':11,'text-anchor':'start',fill:'#222'},gb);
    tx.textContent=fmt(t,0);
    
    
  });
  xaxis(gb,b,bx,xTicks[i]);
  const lt=el('text',{x:0,y:0,'font-size':12.5,'text-anchor':'middle',fill:'#222',transform:'translate('+(b[0]-(i===7?35:22))+','+((b[1]+b[3])/2)+') rotate(-90)'},gb);
  lt.innerHTML='Surface Brightness, <tspan font-style="italic">\u03bc</tspan> [mag/arcsec<tspan font-size="8.5" dy="-5">2</tspan><tspan dy="5">]</tspan>';
  
  
  const rt=el('text',{x:0,y:0,'font-size':12.5,'text-anchor':'middle',fill:'#222',transform:'translate('+(b[2]+31)+','+((b[1]+b[3])/2)+') rotate(-90)'},gb);
  rt.innerHTML='log surface mass density, \u03a3\u22c6 [M<tspan font-size="9" dy="2">\u2299</tspan><tspan dy="-2">/pc</tspan><tspan font-size="8.5" dy="-5">2</tspan><tspan dy="5">]</tspan>';
  
  
  legend(gb,b[2]-62,b[1]+3,true);
});
</script>
</body></html>
